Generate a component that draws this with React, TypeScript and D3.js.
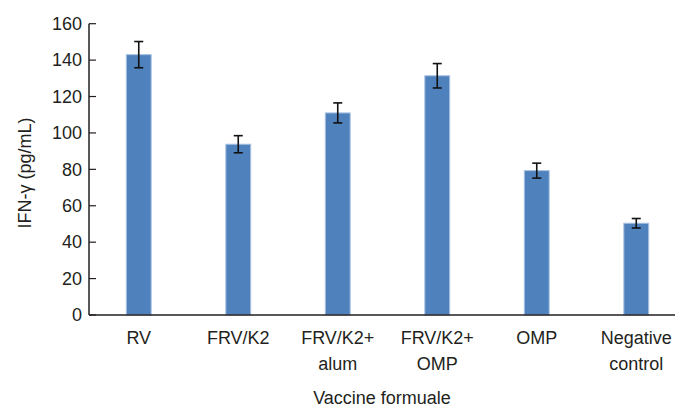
import React from 'react';
import { scaleBand, scaleLinear } from 'd3';

const categories = ['RV', 'FRV/K2', 'FRV/K2+\nalum', 'FRV/K2+\nOMP', 'OMP', 'Negative\ncontrol'];
const means = [143, 93.8, 111, 131.4, 79.3, 50.4];
const errors = [7.2, 4.7, 5.5, 6.7, 4.1, 2.6];
const yTicks = [0, 20, 40, 60, 80, 100, 120, 140, 160];

const W = 691;
const H = 408;
const left = 89;
const top = 23.7;
const bottom = 315;
const font = '"Liberation Sans", Arial, sans-serif';
const ink = '#231f20';

const App = () => {
  const x = scaleBand().domain(categories).range([left, left + 597]).padding(0);
  const y = scaleLinear().domain([0, 160]).range([bottom, top]);
  const barW = x.bandwidth() * 0.25;
  const axisEnd = 675;

  return (
    <svg
      width={W}
      height={H}
      viewBox={`0 0 ${W} ${H}`}
      style={{ position: 'absolute', left: 0, top: 0, background: '#fff' }}
      fontFamily={font}
    >
      {categories.map((c, i) => {
        const cx = x(c)! + x.bandwidth() / 2;
        return (
          <rect
            key={c}
            x={cx - barW / 2}
            y={y(means[i])}
            width={barW}
            height={y(0) - y(means[i])}
            fill='#4f81bd'
            stroke='#a8c1e2'
            strokeWidth={1}
          />
        );
      })}
      {categories.map((c, i) => {
        const cx = x(c)! + x.bandwidth() / 2;
        const hi = y(means[i] + errors[i]);
        const lo = y(means[i] - errors[i]);
        return (
          <g key={c} stroke='#111' strokeWidth={1.6}>
            <line x1={cx} x2={cx} y1={hi} y2={lo} />
            <line x1={cx - 4.5} x2={cx + 4.5} y1={hi} y2={hi} />
            <line x1={cx - 4.5} x2={cx + 4.5} y1={lo} y2={lo} />
          </g>
        );
      })}
      <line x1={left} x2={left} y1={top} y2={bottom} stroke={ink} strokeWidth={1.5} />
      <line x1={left} x2={axisEnd} y1={bottom} y2={bottom} stroke={ink} strokeWidth={1.5} />
      {yTicks.map((t) => (
        <g key={t}>
          <line x1={left} x2={left + 7} y1={y(t)} y2={y(t)} stroke={ink} strokeWidth={1.2} />
          <text
            x={left - 7}
            y={y(t)}
            dy='0.35em'
            textAnchor='end'
            fontSize={18}
            fill={ink}
          >
            {t}
          </text>
        </g>
      ))}
      {categories.map((c) => {
        const cx = x(c)! + x.bandwidth() / 2;
        return (
          <text key={c} x={cx} y={344} textAnchor='middle' fontSize={18} fill={ink}>
            {c.split('\n').map((line, j) => (
              <tspan key={j} x={cx} dy={j === 0 ? 0 : 26}>
                {line}
              </tspan>
            ))}
          </text>
        );
      })}
      <text x={382} y={404} textAnchor='middle' fontSize={18} fill={ink}>
        Vaccine formuale
      </text>
      <text
        transform='translate(31,173) rotate(-90)'
        textAnchor='middle'
        fontSize={18}
        fill={ink}
      >
        IFN-γ (pg/mL)
      </text>
    </svg>
  );
};

export default App;
